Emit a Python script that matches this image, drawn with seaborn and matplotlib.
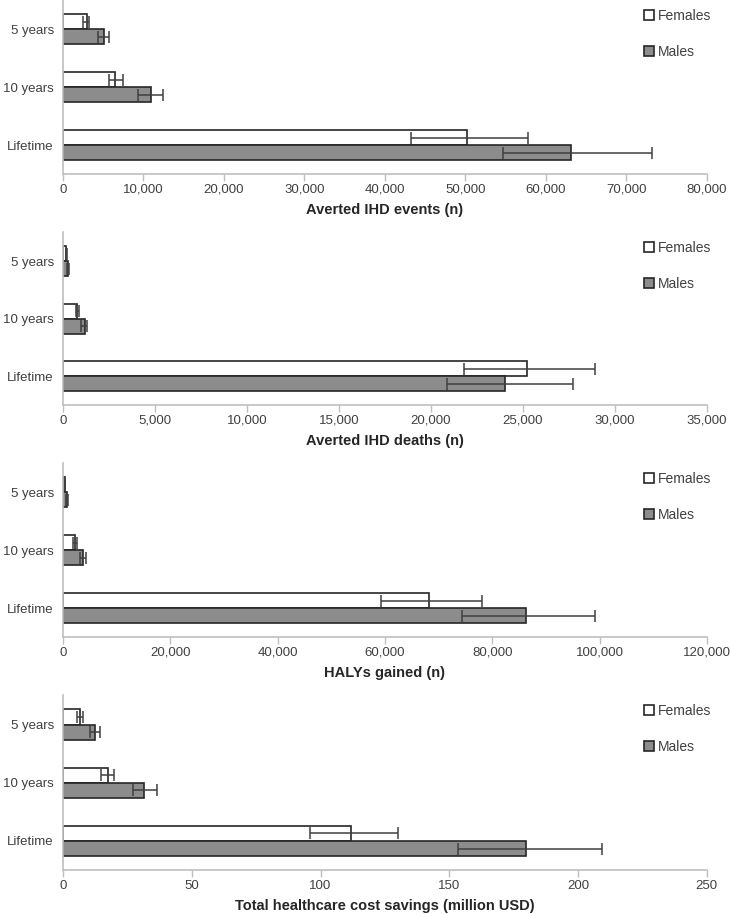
import matplotlib
matplotlib.use("Agg")
import matplotlib.pyplot as plt
import matplotlib.ticker as mticker
import seaborn as sns
import pandas as pd

# Data
periods = ["5 years", "10 years", "Lifetime"]
sexes = ["Females", "Males"]

events_f = [2950, 6450, 50200]
events_f_lo = [2500, 5700, 43300]
events_f_hi = [3200, 7400, 57800]
events_m = [5100, 10900, 63100]
events_m_lo = [4400, 9350, 54700]
events_m_hi = [5750, 12450, 73200]

deaths_f = [180, 780, 25200]
deaths_f_lo = [140, 680, 21800]
deaths_f_hi = [220, 880, 28900]
deaths_m = [290, 1180, 24000]
deaths_m_lo = [240, 1000, 20900]
deaths_m_hi = [340, 1320, 27700]

halys_f = [350, 2200, 68300]
halys_f_lo = [280, 1800, 59300]
halys_f_hi = [420, 2600, 78100]
halys_m = [750, 3700, 86300]
halys_m_lo = [650, 3200, 74300]
halys_m_hi = [850, 4200, 99200]

cost_f = [6.7, 17.5, 112.0]
cost_f_lo = [5.5, 14.9, 95.9]
cost_f_hi = [7.9, 19.9, 130.0]
cost_m = [12.4, 31.4, 179.8]
cost_m_lo = [10.6, 27.1, 153.2]
cost_m_hi = [14.5, 36.4, 209.3]

panels = [
    ("Averted IHD events (n)", events_f, events_f_lo, events_f_hi,
     events_m, events_m_lo, events_m_hi, 80000, 10000),
    ("Averted IHD deaths (n)", deaths_f, deaths_f_lo, deaths_f_hi,
     deaths_m, deaths_m_lo, deaths_m_hi, 35000, 5000),
    ("HALYs gained (n)", halys_f, halys_f_lo, halys_f_hi,
     halys_m, halys_m_lo, halys_m_hi, 120000, 20000),
    ("Total healthcare cost savings (million USD)", cost_f, cost_f_lo, cost_f_hi,
     cost_m, cost_m_lo, cost_m_hi, 250, 50),
]

sns.set_style("white")
plt.rcParams["font.family"] = ["Liberation Sans", "DejaVu Sans"]

fig = plt.figure(figsize=(7.3, 9.14), dpi=100)

# axes boxes (left, bottom, width, height) in figure fractions
boxes = [
    (0.0863, 0.8096, 0.882, 0.190),
    (0.0863, 0.5569, 0.882, 0.189),
    (0.0863, 0.3030, 0.882, 0.190),
    (0.0863, 0.0481, 0.882, 0.191),
]

colors = {"Females": "white", "Males": "#8c8c8c"}
grey_axis = "#bfbfbf"
text_col = "#404040"

for box, (xlabel, f, f_lo, f_hi, m, m_lo, m_hi, xmax, step) in zip(boxes, panels):
    ax = fig.add_axes(box)
    df = pd.DataFrame({
        "period": periods * 2,
        "sex": ["Females"] * 3 + ["Males"] * 3,
        "value": f + m,
        "lo": f_lo + m_lo,
        "hi": f_hi + m_hi,
    })
    sns.barplot(data=df, y="period", x="value", hue="sex", order=periods,
                hue_order=sexes, palette=colors, orient="h", width=0.52,
                errorbar=None, edgecolor="#262626", linewidth=1.2, ax=ax)

    # asymmetric uncertainty intervals on top of each bar
    for container, sex in zip(ax.containers, sexes):
        sub = df[df["sex"] == sex].set_index("period").loc[periods]
        for bar, (_, row) in zip(container, sub.iterrows()):
            yc = bar.get_y() + bar.get_height() / 2
            ax.errorbar(row["value"], yc,
                        xerr=[[row["value"] - row["lo"]], [row["hi"] - row["value"]]],
                        fmt="none", ecolor="#404040", elinewidth=1.1,
                        capsize=4, capthick=1.1, zorder=5)

    ax.set_xlim(0, xmax)
    ax.set_ylim(2.5, -0.5)
    ax.xaxis.set_major_locator(mticker.MultipleLocator(step))
    ax.xaxis.set_major_formatter(mticker.FuncFormatter(lambda v, p: f"{v:,.0f}"))
    ax.set_xlabel(xlabel, fontsize=10.5, fontweight="bold", color="#262626", labelpad=5)
    ax.set_ylabel("")
    ax.tick_params(axis="x", colors=grey_axis, labelcolor=text_col, labelsize=9.5,
                   length=5, width=1, direction="out", bottom=True, pad=2)
    ax.tick_params(axis="y", left=False, labelcolor=text_col, labelsize=9.5, pad=3)
    for s in ["top", "right"]:
        ax.spines[s].set_visible(False)
    for s in ["left", "bottom"]:
        ax.spines[s].set_color(grey_axis)
        ax.spines[s].set_linewidth(1.2)

    leg = ax.legend(loc="upper right", bbox_to_anchor=(1.02, 1.0), frameon=False,
                    fontsize=10, handlelength=0.7, handleheight=0.7,
                    handletextpad=0.3, labelspacing=1.6, borderaxespad=0.2)
    for t in leg.get_texts():
        t.set_color(text_col)

fig.savefig("out.png", dpi=100)
